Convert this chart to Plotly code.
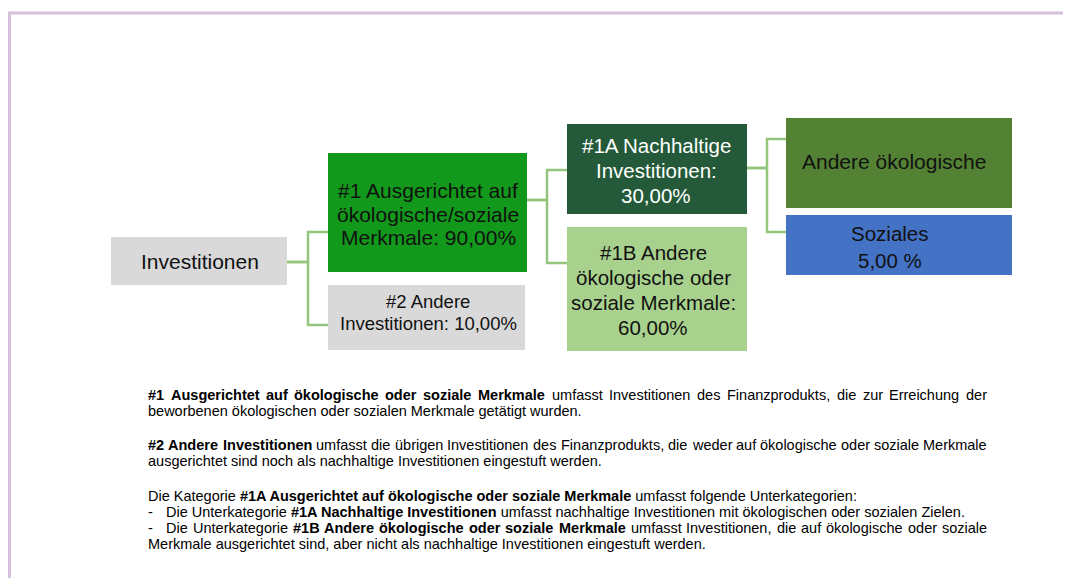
import plotly.graph_objects as go

# ---------------- data ----------------
node_ids = ["inv", "n1", "n2", "n1a", "n1b", "env", "soc"]
node_labels = [
    ["Investitionen"],
    ["#1 Ausgerichtet auf", "ökologische/soziale", "Merkmale: 90,00%"],
    ["#2 Andere", "Investitionen: 10,00%"],
    ["#1A Nachhaltige", "Investitionen:", "30,00%"],
    ["#1B Andere", "ökologische oder", "soziale Merkmale:", "60,00%"],
    ["Andere ökologische"],
    ["Soziales", "5,00 %"],
]
node_parents = [None, "inv", "inv", "n1", "n1", "n1a", "n1a"]
node_colors = ["#d9d9d9", "#12991b", "#d9d9d9", "#245a39", "#a9d18e", "#548235", "#4472c4"]
node_text_colors = ["#111111", "#111111", "#111111", "#ffffff", "#111111", "#111111", "#111111"]

# explanatory paragraphs: list of lines, each line a list of (text, bold)
text_lines = [
    [("#1 Ausgerichtet auf ökologische oder soziale Merkmale", True),
     (" umfasst Investitionen des Finanzprodukts, die zur Erreichung der", False)],
    [("beworbenen ökologischen oder sozialen Merkmale getätigt wurden.", False)],
    [("#2 Andere Investitionen", True),
     (" umfasst die übrigen Investitionen des Finanzprodukts, die weder auf ökologische oder soziale Merkmale", False)],
    [("ausgerichtet sind noch als nachhaltige Investitionen eingestuft werden.", False)],
    [("Die Kategorie ", False), ("#1A Ausgerichtet auf ökologische oder soziale Merkmale", True),
     (" umfasst folgende Unterkategorien:", False)],
    [("Die Unterkategorie ", False), ("#1A Nachhaltige Investitionen", True),
     (" umfasst nachhaltige Investitionen mit ökologischen oder sozialen Zielen.", False)],
    [("Die Unterkategorie ", False), ("#1B Andere ökologische oder soziale Merkmale", True),
     (" umfasst Investitionen, die auf ökologische oder soziale", False)],
    [("Merkmale ausgerichtet sind, aber nicht als nachhaltige Investitionen eingestuft werden.", False)],
]
line_bullet = [False, False, False, False, False, True, True, False]
line_justified = [True, False, True, False, False, False, True, False]

# ---------------- layout geometry (page pixels) ----------------
PAGE_W, PAGE_H = 1071, 578
BODY_MARGIN = 8  # default page margin around the plot div
box_geom = {  # x0, x1, y0, y1
    "inv": (111, 287, 237, 285),
    "n1": (328, 527, 153, 272),
    "n2": (328, 525, 285, 350),
    "n1a": (567, 747, 124, 214),
    "n1b": (567, 747, 227, 351),
    "env": (786, 1012, 118, 208),
    "soc": (786, 1012, 215, 275),
}
text_geom = {  # x center, y center, font size, line spacing
    "inv": (200, 261, 21, 0),
    "n1": (428, 214, 21, 23.5),
    "n2": (428, 312.5, 18.5, 21.5),
    "n1a": (656, 170, 20.5, 25),
    "n1b": (653, 290, 20.5, 24.7),
    "env": (894, 161, 21, 0),
    "soc": (890, 246.5, 20.5, 27),
}
parent_anchor = {"inv": (262, 308), "n1": (200, 547), "n1a": (168, 767)}  # y, bus x
child_anchor_y = {"n1": 232, "n2": 325, "n1a": 170, "n1b": 263, "env": 139, "soc": 232}
text_y = [395, 411, 445, 461, 496, 512, 528, 544]
text_x0, bullet_x, text_right = 148, 166, 987
para_fs = 14.5

FONT = "Liberation Sans, Arial, sans-serif"

# Arial / Liberation Sans advance widths (per 1000 em)
REG = {" ": 278, "#": 556, "%": 889, ",": 278, "-": 333, ".": 278, ":": 278, "/": 278}
BLD = {" ": 278, "#": 556, "%": 889, ",": 278, "-": 333, ".": 278, ":": 333, "/": 278}
for d in "0123456789":
    REG[d] = 556
    BLD[d] = 556
REG.update(dict(zip("ABCDEFGHIJKLMNOPQRSTUVWXYZ",
                    [667, 667, 722, 722, 667, 611, 778, 722, 278, 500, 667, 556, 833, 722, 778, 667, 778, 722, 667, 611, 722, 667, 944, 667, 667, 611])))
REG.update(dict(zip("abcdefghijklmnopqrstuvwxyz",
                    [556, 556, 500, 556, 556, 278, 556, 556, 222, 222, 500, 222, 833, 556, 556, 556, 556, 333, 500, 278, 556, 500, 722, 500, 500, 500])))
BLD.update(dict(zip("ABCDEFGHIJKLMNOPQRSTUVWXYZ",
                    [722, 722, 722, 722, 667, 611, 778, 722, 278, 556, 722, 611, 833, 722, 778, 667, 778, 722, 667, 611, 722, 667, 944, 667, 667, 611])))
BLD.update(dict(zip("abcdefghijklmnopqrstuvwxyz",
                    [556, 611, 556, 611, 556, 333, 611, 611, 278, 278, 556, 278, 889, 611, 611, 611, 611, 389, 556, 333, 611, 556, 778, 556, 556, 500])))
REG.update({"ä": 556, "ö": 556, "ü": 556})
BLD.update({"ä": 556, "ö": 611, "ü": 611})


def text_width(s, bold, fs):
    table = BLD if bold else REG
    return sum(table.get(c, 556) for c in s) * fs / 1000.0


fig = go.Figure()

# connectors
cx, cy = [], []
for cid, pid in zip(node_ids, node_parents):
    if pid is None:
        continue
    py, bus = parent_anchor[pid]
    px1 = box_geom[pid][1]
    chx0 = box_geom[cid][0]
    yy = child_anchor_y[cid]
    cx += [px1, bus, bus, chx0, None]
    cy += [py, py, yy, yy, None]
fig.add_trace(go.Scatter(x=cx, y=cy, mode="lines", line=dict(color="#93c67c", width=2.5),
                         hoverinfo="skip", showlegend=False))

shapes = []
# frame
shapes.append(dict(type="line", xref="x", yref="y", x0=8, x1=PAGE_W, y0=13, y1=13,
                   line=dict(color="#d6c1dc", width=3)))
shapes.append(dict(type="line", xref="x", yref="y", x0=9.5, x1=9.5, y0=13, y1=PAGE_H,
                   line=dict(color="#d6c1dc", width=3)))

annotations = []
for nid, lab, col, tcol in zip(node_ids, node_labels, node_colors, node_text_colors):
    x0, x1, y0, y1 = box_geom[nid]
    shapes.append(dict(type="rect", xref="x", yref="y", x0=x0, x1=x1, y0=y0, y1=y1,
                       fillcolor=col, line=dict(width=0), layer="below"))
    tx, tyc, fs, sp = text_geom[nid]
    n = len(lab)
    for i, line in enumerate(lab):
        annotations.append(dict(x=tx, y=tyc + (i - (n - 1) / 2) * sp, xref="x", yref="y",
                                text=line, showarrow=False, xanchor="center", yanchor="middle",
                                font=dict(family=FONT, size=fs, color=tcol),
                                borderpad=0, borderwidth=0))

# paragraphs
for segs, yy, bullet, just in zip(text_lines, text_y, line_bullet, line_justified):
    start = bullet_x if bullet else text_x0
    if bullet:
        annotations.append(dict(x=text_x0, y=yy, xref="x", yref="y", text="-", showarrow=False,
                                xanchor="left", yanchor="middle",
                                font=dict(family=FONT, size=para_fs, color="#000000"),
                                borderpad=0, borderwidth=0))
    if just:
        words = []
        for t, b in segs:
            for w in t.split(" "):
                if w:
                    words.append((w, b))
        widths = [text_width(w, b, para_fs) for w, b in words]
        gap = (text_right - start - sum(widths)) / (len(words) - 1)
        x = start
        for (w, b), wd in zip(words, widths):
            annotations.append(dict(x=x, y=yy, xref="x", yref="y",
                                    text=f"<b>{w}</b>" if b else w, showarrow=False,
                                    xanchor="left", yanchor="middle",
                                    font=dict(family=FONT, size=para_fs, color="#000000"),
                                    borderpad=0, borderwidth=0))
            x += wd + gap
    else:
        html = "".join(f"<b>{t}</b>" if b else t for t, b in segs)
        annotations.append(dict(x=start, y=yy, xref="x", yref="y", text=html, showarrow=False,
                                xanchor="left", yanchor="middle",
                                font=dict(family=FONT, size=para_fs, color="#000000"),
                                borderpad=0, borderwidth=0))

fig.update_layout(
    width=PAGE_W - BODY_MARGIN, height=PAGE_H - BODY_MARGIN,
    margin=dict(l=0, r=0, t=0, b=0),
    paper_bgcolor="white", plot_bgcolor="white",
    xaxis=dict(range=[BODY_MARGIN, PAGE_W], visible=False, fixedrange=True),
    yaxis=dict(range=[PAGE_H, BODY_MARGIN], visible=False, fixedrange=True),
    shapes=shapes, annotations=annotations, showlegend=False,
)

fig.write_html("out.html")
